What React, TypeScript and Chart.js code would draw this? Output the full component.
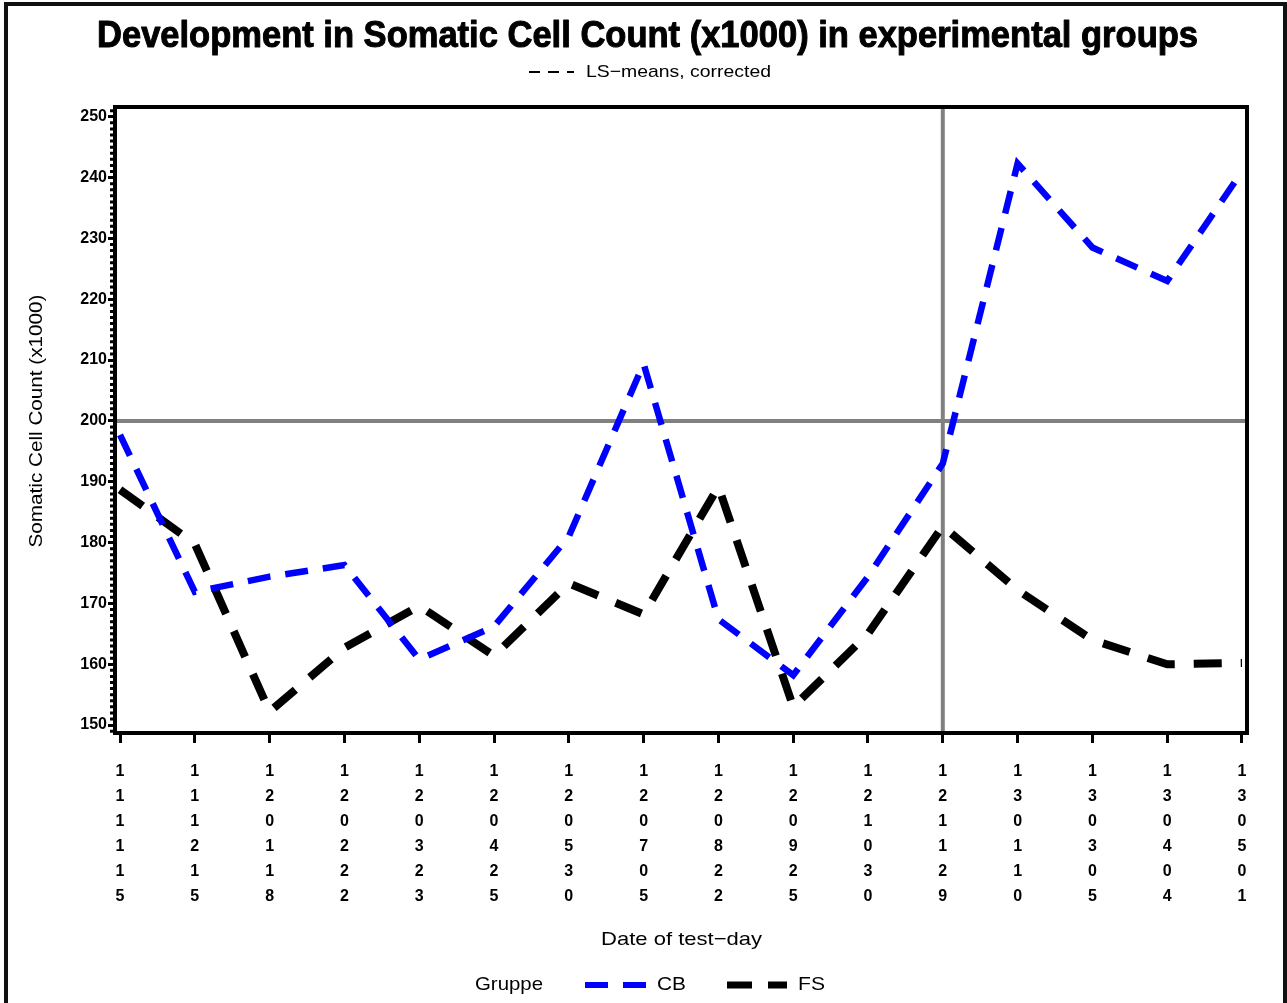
import React, { useEffect, useRef } from "react";
import { Chart, registerables } from "chart.js";

Chart.register(...registerables);

const dateLabels = [
  "111115", "111215", "120118", "120222", "120323", "120425", "120530", "120705",
  "120822", "120925", "121030", "121129", "130110", "130305", "130404", "130501",
];
const cbValues = [197.7, 171.9, 174.4, 176.3, 160.8, 166.2, 181.0, 209.4, 167.4, 158.2, 174.4, 193.0, 242.3, 228.5, 223.0, 241.0];
const fsValues = [188.7, 179.8, 152.2, 162.7, 169.6, 161.4, 173.3, 168.2, 189.2, 153.0, 165.0, 182.7, 172.2, 164.0, 160.0, 160.2];
const yTickValues = [150, 160, 170, 180, 190, 200, 210, 220, 230, 240, 250];
const refLineY = 200;
const refLineXIndex = 11;

const titleText = "Development in Somatic Cell Count (x1000) in experimental groups";
const subtitleText = "LS\u2212means, corrected";
const yTitleText = "Somatic Cell Count (x1000)";
const xTitleText = "Date of test\u2212day";
const legendTitle = "Gruppe";

const FONT = "'Liberation Sans', Arial, sans-serif";
const W = 1287;
const H = 1003;

function drawDashSample(ctx: CanvasRenderingContext2D, x1: number, x2: number, y: number, color: string, width: number, dash: number[]) {
  ctx.save();
  ctx.strokeStyle = color;
  ctx.lineWidth = width;
  ctx.lineCap = "butt";
  ctx.setLineDash(dash);
  ctx.beginPath();
  ctx.moveTo(x1, y);
  ctx.lineTo(x2, y);
  ctx.stroke();
  ctx.restore();
}

function fitText(
  ctx: CanvasRenderingContext2D,
  text: string,
  cx: number,
  cy: number,
  size: number,
  weight: string,
  targetW: number,
  rotate = 0,
  heavy = 0
) {
  ctx.save();
  ctx.font = `${weight} ${size}px ${FONT}`;
  const w = ctx.measureText(text).width;
  ctx.translate(cx, cy);
  if (rotate) ctx.rotate(rotate);
  ctx.scale(targetW / w, 1);
  ctx.textAlign = "center";
  ctx.textBaseline = "middle";
  ctx.fillStyle = "#000";
  ctx.fillText(text, 0, 0);
  if (heavy > 0) {
    ctx.strokeStyle = "#000";
    ctx.lineWidth = heavy;
    ctx.lineJoin = "round";
    ctx.strokeText(text, 0, 0);
  }
  ctx.restore();
}

const decorPlugin = {
  id: "decor",
  beforeDatasetsDraw(chart: any) {
    const { ctx, chartArea, scales } = chart;
    const yPix = scales.y.getPixelForValue(refLineY);
    const xPix = scales.x.getPixelForValue(refLineXIndex);
    ctx.save();
    ctx.strokeStyle = "#808080";
    ctx.lineWidth = 4;
    ctx.beginPath();
    ctx.moveTo(chartArea.left, yPix);
    ctx.lineTo(chartArea.right, yPix);
    ctx.moveTo(xPix, chartArea.top);
    ctx.lineTo(xPix, chartArea.bottom);
    ctx.stroke();
    ctx.restore();
  },
  afterDraw(chart: any) {
    const { ctx, chartArea, scales } = chart;
    ctx.save();
    // plot frame
    ctx.strokeStyle = "#000";
    ctx.lineWidth = 4;
    ctx.strokeRect(chartArea.left, chartArea.top, chartArea.right - chartArea.left, chartArea.bottom - chartArea.top);

    // minor ticks on y
    ctx.lineWidth = 3;
    ctx.beginPath();
    for (let v = 149; v <= 251; v++) {
      if (v % 10 === 0) continue;
      const p = scales.y.getPixelForValue(v);
      if (p < chartArea.top || p > chartArea.bottom) continue;
      ctx.moveTo(chartArea.left - 5, p);
      ctx.lineTo(chartArea.left, p);
    }
    ctx.stroke();

    // title
    fitText(ctx, titleText, 647.5, 37, 36, "bold", 1101, 0, 1);

    // subtitle with dash sample
    drawDashSample(ctx, 529, 574, 72, "#000", 2, [11, 8]);
    fitText(ctx, subtitleText, 678.5, 72, 17, "normal", 185);

    // y title
    fitText(ctx, yTitleText, 37, 421, 18, "normal", 253, -Math.PI / 2);

    // x title
    fitText(ctx, xTitleText, 681.5, 940, 19, "normal", 161);

    // legend
    fitText(ctx, legendTitle, 509, 985, 19, "normal", 68);
    drawDashSample(ctx, 585, 646, 985, "#0000ff", 6, [23, 15]);
    fitText(ctx, "CB", 671.5, 985, 19, "normal", 29);
    drawDashSample(ctx, 727, 787, 985, "#000", 7, [25, 16]);
    fitText(ctx, "FS", 811.5, 985, 19, "normal", 27);

    // outer frame
    ctx.lineWidth = 4;
    ctx.strokeStyle = "#111";
    ctx.strokeRect(6, 4, W - 8, H + 10);
    ctx.restore();
  },
};

export default function App() {
  const canvasRef = useRef<HTMLCanvasElement | null>(null);

  useEffect(() => {
    if (!canvasRef.current) return;
    const chart = new Chart(canvasRef.current, {
      type: "line",
      data: {
        datasets: [
          {
            label: "CB",
            data: cbValues.map((v, i) => ({ x: i, y: v })),
            borderColor: "#0000ff",
            backgroundColor: "#0000ff",
            borderWidth: 6.5,
            borderDash: [23, 15],
            borderCapStyle: "butt",
            borderJoinStyle: "miter",
            pointRadius: 0,
            tension: 0,
            fill: false,
          },
          {
            label: "FS",
            data: fsValues.map((v, i) => ({ x: i, y: v })),
            borderColor: "#000000",
            backgroundColor: "#000000",
            borderWidth: 8,
            borderDash: [28, 19],
            borderCapStyle: "butt",
            borderJoinStyle: "miter",
            pointRadius: 0,
            tension: 0,
            fill: false,
          },
        ],
      },
      options: {
        responsive: false,
        animation: false,
        devicePixelRatio: 1,
        layout: { padding: { left: 0, right: 40, top: 107, bottom: 0 } },
        plugins: {
          legend: { display: false },
          tooltip: { enabled: false },
          title: { display: false },
        },
        scales: {
          x: {
            type: "linear",
            min: -0.067,
            max: 15.067,
            afterBuildTicks: (s: any) => {
              s.ticks = dateLabels.map((_, i) => ({ value: i }));
            },
            afterFit: (s: any) => {
              s.height = 270;
            },
            ticks: {
              autoSkip: false,
              maxRotation: 0,
              minRotation: 0,
              padding: 16,
              color: "#000",
              font: { family: FONT, size: 16, weight: "bold", lineHeight: 25 / 16 },
              callback: (_v: any, i: number) => dateLabels[i].split(""),
            },
            grid: {
              drawOnChartArea: false,
              drawTicks: true,
              tickLength: 10,
              tickWidth: 3,
              tickColor: "#000",
            },
            border: { display: true, width: 4, color: "#000" },
          },
          y: {
            type: "linear",
            min: 148.7,
            max: 251.6,
            afterBuildTicks: (s: any) => {
              s.ticks = yTickValues.map((v) => ({ value: v }));
            },
            afterFit: (s: any) => {
              s.width = 115;
            },
            ticks: {
              padding: 1,
              color: "#000",
              font: { family: FONT, size: 16, weight: "bold" },
              callback: (v: any) => String(v),
            },
            grid: {
              drawOnChartArea: false,
              drawTicks: true,
              tickLength: 7,
              tickWidth: 3,
              tickColor: "#000",
            },
            border: { display: true, width: 4, color: "#000" },
          },
        },
      },
      plugins: [decorPlugin],
    } as any);
    return () => chart.destroy();
  }, []);

  return (
    <div style={{ position: "absolute", left: 0, top: 0, width: W, height: H, background: "#fff" }}>
      <canvas ref={canvasRef} width={W} height={H} style={{ display: "block", width: W, height: H }} />
    </div>
  );
}
